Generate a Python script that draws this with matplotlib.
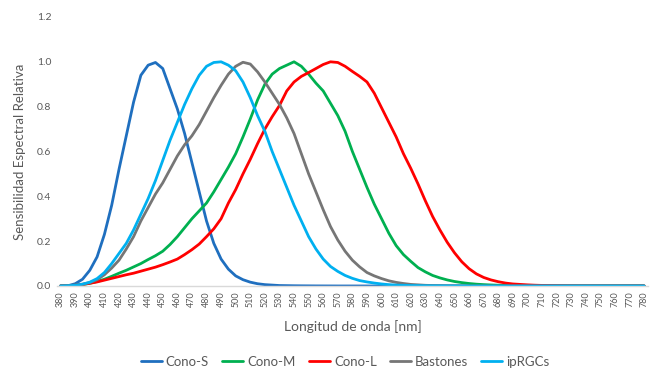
import matplotlib
matplotlib.use("Agg")
import matplotlib.pyplot as plt

wavelengths = list(range(380, 785, 5))

cono_s = [0.0, 0.001, 0.01, 0.03, 0.07, 0.13, 0.23, 0.36, 0.52, 0.67, 0.82, 0.94, 0.985, 0.997,
          0.97, 0.88, 0.79, 0.68, 0.55, 0.42, 0.29, 0.19, 0.12, 0.075, 0.045, 0.028, 0.017,
          0.01, 0.006, 0.004, 0.002, 0.0015, 0.001, 0.0007, 0.0005, 0.0003, 0.0002, 0.0001]
cono_m = [0.0, 0.001, 0.003, 0.006, 0.012, 0.02, 0.03, 0.043, 0.057, 0.07, 0.085, 0.1, 0.118,
          0.135, 0.155, 0.185, 0.22, 0.26, 0.3, 0.335, 0.37, 0.42, 0.475, 0.53, 0.59, 0.665,
          0.745, 0.83, 0.9, 0.945, 0.97, 0.985, 1.0, 0.98, 0.945, 0.905, 0.87, 0.815, 0.76,
          0.69, 0.6, 0.52, 0.44, 0.365, 0.3, 0.235, 0.18, 0.14, 0.11, 0.082, 0.063, 0.047,
          0.036, 0.027, 0.02, 0.015, 0.011, 0.008, 0.006, 0.0045, 0.0033, 0.0024, 0.0017,
          0.0012, 0.0009, 0.0006, 0.0004, 0.0003, 0.0002, 0.0001]
cono_l = [0.0, 0.001, 0.003, 0.007, 0.012, 0.018, 0.026, 0.034, 0.042, 0.05, 0.057, 0.066,
          0.075, 0.084, 0.095, 0.107, 0.12, 0.14, 0.162, 0.187, 0.22, 0.255, 0.3, 0.37, 0.43,
          0.5, 0.565, 0.635, 0.7, 0.755, 0.805, 0.87, 0.91, 0.935, 0.952, 0.97, 0.988, 1.0,
          0.997, 0.98, 0.957, 0.935, 0.91, 0.86, 0.795, 0.73, 0.665, 0.59, 0.525, 0.455, 0.38,
          0.31, 0.25, 0.195, 0.148, 0.108, 0.077, 0.054, 0.038, 0.027, 0.019, 0.013, 0.009,
          0.007, 0.005, 0.0035, 0.0025, 0.0018, 0.0012, 0.0008, 0.0005, 0.0003, 0.0002, 0.0001]
bastones = [0.001, 0.002, 0.004, 0.008, 0.015, 0.028, 0.05, 0.08, 0.115, 0.165, 0.22, 0.29,
            0.35, 0.41, 0.46, 0.52, 0.58, 0.63, 0.67, 0.72, 0.78, 0.84, 0.895, 0.945, 0.98,
            0.998, 0.99, 0.955, 0.91, 0.86, 0.81, 0.75, 0.68, 0.59, 0.5, 0.42, 0.34, 0.265,
            0.205, 0.155, 0.115, 0.085, 0.06, 0.045, 0.033, 0.023, 0.016, 0.011, 0.007, 0.005,
            0.003, 0.002, 0.0015, 0.001, 0.0007, 0.0005, 0.0003, 0.0002, 0.0001]
iprgcs = [0.0, 0.001, 0.003, 0.008, 0.017, 0.033, 0.06, 0.1, 0.145, 0.19, 0.25, 0.32, 0.39,
          0.47, 0.56, 0.65, 0.73, 0.81, 0.88, 0.94, 0.98, 0.997, 1.0, 0.985, 0.96, 0.91, 0.84,
          0.76, 0.69, 0.6, 0.52, 0.44, 0.36, 0.29, 0.22, 0.165, 0.12, 0.087, 0.065, 0.047,
          0.034, 0.024, 0.018, 0.013, 0.009, 0.006, 0.004, 0.003, 0.002, 0.0015, 0.001,
          0.0007, 0.0005, 0.0003, 0.0002, 0.0001]

def pad(vals):
    return vals + [0.0] * (len(wavelengths) - len(vals))

series = [
    ("Cono-S", pad(cono_s), "#1F6FBF"),
    ("Cono-M", pad(cono_m), "#00B050"),
    ("Cono-L", pad(cono_l), "#FF0000"),
    ("Bastones", pad(bastones), "#767676"),
    ("ipRGCs", pad(iprgcs), "#00B0F0"),
]

x_ticks = list(range(380, 790, 10))
y_ticks = [0.0, 0.2, 0.4, 0.6, 0.8, 1.0, 1.2]

plt.rcParams['font.family'] = ['Lato', 'DejaVu Sans']

fig = plt.figure(figsize=(6.55, 3.69), dpi=100)
ax = fig.add_axes([0.087, 0.225, 0.902, 0.729])

for name, vals, color in series:
    ax.plot(wavelengths, vals, color=color, lw=2.0, label=name, solid_capstyle='round',
            solid_joinstyle='round')

ax.set_xlim(377.5, 782.5)
ax.set_ylim(0, 1.2)
ax.set_xticks(x_ticks)
ax.set_xticklabels([str(t) for t in x_ticks], rotation=90, fontsize=6.5, color="#595959")
ax.set_yticks(y_ticks)
ax.set_yticklabels([f"{t:.1f}" for t in y_ticks], fontsize=7.5, color="#595959")
ax.tick_params(length=0, pad=4)

for s in ["top", "right", "left"]:
    ax.spines[s].set_visible(False)
ax.spines["bottom"].set_color("#D9D9D9")
ax.spines["bottom"].set_linewidth(1.0)

ax.set_xlabel("Longitud de onda [nm]", fontsize=10, color="#595959", labelpad=9)
ax.set_ylabel("Sensibilidad Espectral Relativa", fontsize=9.5, color="#595959", labelpad=8)

leg = fig.legend(loc="center", bbox_to_anchor=(0.527, 0.02), ncol=5, frameon=False,
                 fontsize=9.5, handlelength=1.6, handletextpad=0.3, columnspacing=1.0)
for t in leg.get_texts():
    t.set_color("#595959")

fig.savefig("out.png", dpi=100)
